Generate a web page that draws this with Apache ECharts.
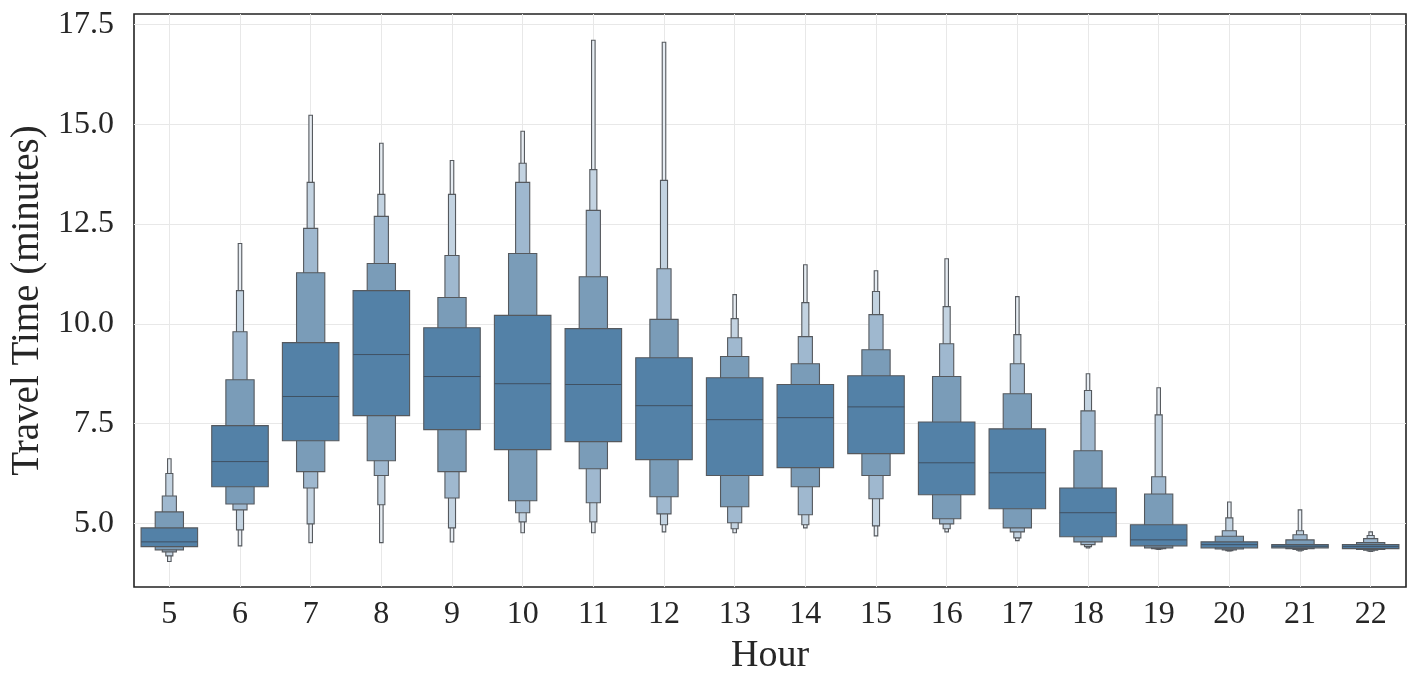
<!DOCTYPE html>
<html style="height: 100%">
<head>
    <meta charset="utf-8">
    <title>Travel time by hour</title>
    <script src="https://cdn.jsdelivr.net/npm/echarts@6/dist/echarts.min.js"></script>
</head>
<body style="height: 100%; margin: 0; background: #fff">
    <div id="container" style="width: 1419px; height: 689px"></div>
    <script type="text/javascript">
        // hours on the x axis
        var hours = [5, 6, 7, 8, 9, 10, 11, 12, 13, 14, 15, 16, 17, 18, 19, 20, 21, 22];
        var yTicks = [5, 7.5, 10, 12.5, 15, 17.5];

        var medians = [4.54, 6.55, 8.18, 9.23, 8.68, 8.50, 8.48, 7.95, 7.60, 7.65, 7.92, 6.52, 6.27, 5.27, 4.59, 4.47, 4.43, 4.42];

        // letter values, innermost level first: [low, high]
        var level1 = [[4.42, 4.89], [5.92, 7.45], [7.07, 9.53], [7.70, 10.83], [7.35, 9.90], [6.85, 10.21],
            [7.05, 9.88], [6.60, 9.15], [6.20, 8.65], [6.40, 8.48], [6.75, 8.70], [5.72, 7.54],
            [5.37, 7.37], [4.67, 5.89], [4.44, 4.97], [4.39, 4.54], [4.39, 4.47], [4.37, 4.47]];
        var level2 = [[4.34, 5.29], [5.49, 8.60], [6.30, 11.28], [6.57, 11.51], [6.30, 10.66], [5.57, 11.76],
            [6.37, 11.18], [5.67, 10.11], [5.42, 9.18], [5.92, 9.00], [6.20, 9.35], [5.12, 8.68],
            [4.89, 8.25], [4.54, 6.82], [4.39, 5.74], [4.36, 4.68], [4.37, 4.59], [4.35, 4.52]];
        var level3 = [[4.29, 5.69], [5.34, 9.80], [5.89, 12.39], [6.20, 12.69], [5.64, 11.71], [5.27, 13.54],
            [5.52, 12.84], [5.24, 11.38], [5.02, 9.65], [5.22, 9.68], [5.62, 10.23], [4.99, 9.50],
            [4.79, 9.00], [4.47, 7.82], [4.37, 6.17], [4.34, 4.82], [4.35, 4.72], [4.33, 4.62]];
        var level4 = [[4.19, 6.25], [4.84, 10.83], [4.99, 13.54], [5.47, 13.24], [4.89, 13.24], [5.04, 14.02],
            [5.04, 13.86], [4.97, 13.59], [4.87, 10.13], [4.97, 10.53], [4.94, 10.81], [4.87, 10.43],
            [4.64, 9.73], [4.42, 8.33], [4.36, 7.72], [4.32, 5.14], [4.33, 4.82], [4.31, 4.70]];
        var level5 = [[4.05, 6.62], [4.44, 12.01], [4.52, 15.22], [4.52, 14.52], [4.54, 14.09], [4.77, 14.82],
            [4.77, 17.10], [4.79, 17.05], [4.77, 10.73], [4.89, 11.48], [4.69, 11.33], [4.79, 11.63],
            [4.57, 10.68], [4.39, 8.75], [4.35, 8.40], [4.31, 5.54], [4.31, 5.34], [4.30, 4.79]];

        var levelColors = ['#5381a7', '#7a9cb8', '#9fb8cf', '#c3d3e1', '#e6ecf2'];
        var levels = [level1, level2, level3, level4, level5];

        // one row per hour: [hour, median, l1lo, l1hi, l2lo, l2hi, ...]
        var data = hours.map(function (h, i) {
            var row = [h, medians[i]];
            levels.forEach(function (lv) { row.push(lv[i][0], lv[i][1]); });
            return row;
        });

        var font = '"Liberation Serif", "DejaVu Serif", serif';

        function renderBoxen(params, api) {
            var x = api.value(0);
            var band = api.size([1, 0])[0];
            var children = [];
            for (var k = levels.length - 1; k >= 0; k--) {
                var lo = api.value(2 + 2 * k);
                var hi = api.value(3 + 2 * k);
                var w = band * 0.8 * Math.pow(0.5, k);
                var top = api.coord([x, hi]);
                var bot = api.coord([x, lo]);
                children.push({
                    type: 'rect',
                    shape: { x: top[0] - w / 2, y: top[1], width: w, height: bot[1] - top[1] },
                    style: { fill: levelColors[k], stroke: '#55595e', lineWidth: 1.1 }
                });
            }
            var m = api.coord([x, api.value(1)]);
            var w0 = band * 0.8;
            children.push({
                type: 'line',
                shape: { x1: m[0] - w0 / 2, y1: m[1], x2: m[0] + w0 / 2, y2: m[1] },
                style: { stroke: '#3f5163', lineWidth: 1 }
            });
            return { type: 'group', children: children };
        }

        var myChart = echarts.init(document.getElementById('container'));
        var option = {
            animation: false,
            backgroundColor: '#fff',
            grid: {
                left: 134, right: 13, top: 14, bottom: 102,
                outerBoundsMode: 'none',
                containLabel: false,
                show: true, borderColor: '#222', borderWidth: 1.6, backgroundColor: 'transparent'
            },
            xAxis: {
                type: 'value',
                min: 4.5,
                max: 22.5,
                name: 'Hour',
                nameLocation: 'middle',
                nameGap: 50,
                nameTextStyle: { fontFamily: font, fontSize: 38, color: '#262626' },
                axisLine: { show: false },
                axisTick: { show: false, customValues: hours },
                axisLabel: {
                    customValues: hours,
                    fontFamily: font, fontSize: 32, color: '#262626', margin: 12
                },
                splitLine: { show: true, lineStyle: { color: '#e8e8e8', width: 1 } }
            },
            yAxis: {
                type: 'value',
                min: 3.41,
                max: 17.757,
                name: 'Travel Time (minutes)',
                nameLocation: 'middle',
                nameGap: 84,
                nameTextStyle: { fontFamily: font, fontSize: 39, color: '#262626' },
                axisLine: { show: false },
                axisTick: { show: false, customValues: yTicks },
                axisLabel: {
                    customValues: yTicks,
                    formatter: function (v) { return v.toFixed(1); },
                    fontFamily: font, fontSize: 32, color: '#262626', margin: 20
                },
                splitLine: { show: true, lineStyle: { color: '#e8e8e8', width: 1 } }
            },
            series: [{
                type: 'custom',
                renderItem: renderBoxen,
                encode: { x: 0, y: [1, 2, 3, 4, 5, 6, 7, 8, 9, 10, 11] },
                data: data,
                clip: false
            }]
        };
        myChart.setOption(option);
    </script>
</body>
</html>
